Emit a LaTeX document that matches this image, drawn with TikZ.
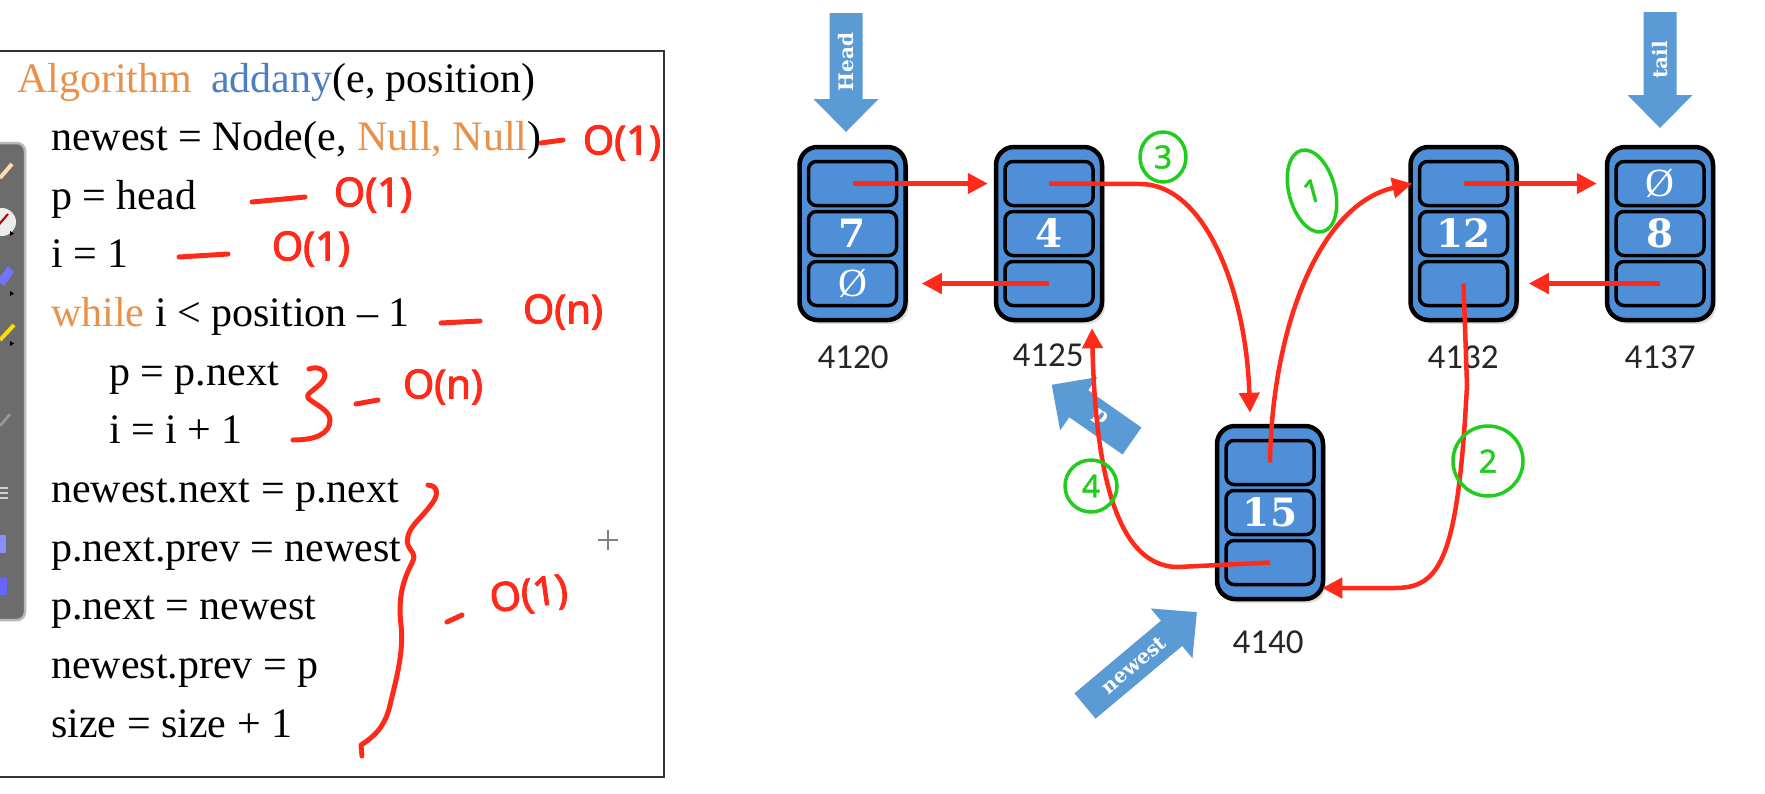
\documentclass[tikz,border=0pt]{standalone}
\usepackage{fontspec}
\setmainfont{Liberation Serif}
\newfontfamily\slabfont{DejaVu Serif}
\newfontfamily\addrfont{Carlito}
\newfontfamily\handfont[FakeBold=2.5]{Noto Sans}
\newfontfamily\greenfont[FakeBold=1.2]{Noto Sans}
\usetikzlibrary{arrows.meta,calc,shadows,shapes.geometric}
\definecolor{cellblue}{HTML}{4F8FD8}
\definecolor{arrblue}{HTML}{5B9BD5}
\definecolor{redpen}{HTML}{FF2A1A}
\definecolor{greenpen}{HTML}{22CC1E}
\definecolor{algorange}{HTML}{E8914A}
\definecolor{algblue}{HTML}{4A7FC4}
\definecolor{boxline}{HTML}{333333}
\definecolor{toolgray}{HTML}{6C6C6C}
\newcommand\nullmark{{\normalfont\mdseries\fontsize{40}{40}\selectfont Ø}}
\tikzset{
  codeline/.style={anchor=base west, inner sep=0pt, font=\fontsize{42}{42}\selectfont},
  outerbox/.style={draw=black, line width=4.5pt, fill=cellblue, rounded corners=18pt,
    minimum width=106pt, minimum height=173pt, inner sep=0pt,
    drop shadow={opacity=0.25, shadow xshift=3pt, shadow yshift=-4pt}},
  cellbox/.style={draw=black, line width=3.5pt, fill=cellblue, rounded corners=8pt,
    minimum width=88pt, minimum height=44pt, inner sep=0pt, text=white,
    font=\slabfont\bfseries\fontsize{39}{39}\selectfont},
  addr/.style={font=\addrfont\fontsize{35}{35}\selectfont, text=black!85, inner sep=0pt},
  ptr/.style={draw=redpen, line width=4.5pt, -{Triangle[length=20pt,width=20pt]}},
  pen/.style={draw=redpen, line width=5pt, line cap=round, line join=round},
  hand/.style={text=redpen, font=\handfont\fontsize{40}{40}\selectfont, inner sep=0pt},
  gring/.style={draw=greenpen, line width=3.5pt, ellipse, inner sep=0pt, text=greenpen,
    font=\greenfont\fontsize{32}{32}\selectfont},
  arrlabel/.style={text=white, font=\slabfont\bfseries\fontsize{20}{20}\selectfont, inner sep=0pt},
  tooltri/.style={fill=black},
}
\newcommand\blockarrow[3]{%
  \fill[arrblue, shift={#1}, rotate=#2] (0,-16.5) -- ({#3-33},-16.5) -- ({#3-33},-32.5)
    -- (#3,0) -- ({#3-33},32.5) -- ({#3-33},16.5) -- (0,16.5) -- cycle;}
\newcommand\dllnode[6]{%
  \node[outerbox] (#1) at (#2,#3) {};
  \node[cellbox] (#1t) at (#2,#3-50) {#4};
  \node[cellbox] (#1m) at (#2,#3) {#5};
  \node[cellbox] (#1b) at (#2,#3+50) {#6};}
\begin{document}
\begin{tikzpicture}[x=1pt,y=-1pt]
\useasboundingbox[fill=white] (0,0) rectangle (1765,793);

% ---------- left panel ----------
\draw[boxline, line width=2pt] (0,51) -- (664,51) -- (664,777) -- (0,777);
\filldraw[fill=toolgray, draw=gray!55, line width=2.5pt, rounded corners=8pt] (-12,143) rectangle (25,620);
% toolbar icons (simplified)
\draw[orange!30!white, line width=4pt] (0,178) -- (12,164);
\fill[white!85!gray] (2,222) circle (14pt);
\draw[red!70!black, line width=2pt] (-4,228) -- (8,214);
\fill[tooltri] (10,231) -- (14,233.5) -- (10,236) -- cycle;
\fill[blue!55!white] (-2,280) -- (8,266) -- (14,272) -- (4,286) -- cycle;
\fill[tooltri] (10,291) -- (14,293.5) -- (10,296) -- cycle;
\draw[yellow!80!orange, line width=4pt] (0,340) -- (14,325);
\fill[tooltri] (10,341) -- (14,343.5) -- (10,346) -- cycle;
\draw[gray!80!white, line width=2.5pt] (0,426) -- (10,414);
\draw[gray!35!white, line width=2pt] (0,488) -- (8,488) (0,493) -- (8,493) (0,498) -- (8,498);
\fill[blue!45!white] (-2,535) rectangle (6,553);
\fill[blue!60!white] (-2,578) rectangle (7,595);

\node[codeline] (l0) at (17,92) {\textcolor{algorange}{Algorithm}\hspace{0.45em}\textcolor{algblue}{addany}(e, position)};
\node[codeline] (l1) at (51,150) {newest = Node(e, \textcolor{algorange}{Null, Null})};
\node[codeline] (l2) at (51,209) {p = head};
\node[codeline] (l3) at (51,267) {i = 1};
\node[codeline] (l4) at (51,326) {\textcolor{algorange}{while} i < position – 1};
\node[codeline] (l5) at (109,385) {p = p.next};
\node[codeline] (l6) at (109,443) {i = i + 1};
\node[codeline] (l7) at (51,502) {newest.next = p.next};
\node[codeline] (l8) at (51,561) {p.next.prev = newest};
\node[codeline] (l9) at (51,619) {p.next = newest};
\node[codeline] (l10) at (51,678) {newest.prev = p};
\node[codeline] (l11) at (51,737) {size = size + 1};

% red handwriting
\draw[pen] (541,143) -- (563,140);
\node[hand] (c1) at (622,143) {O(1)};
\draw[pen] (252,202) -- (305,197);
\node[hand] (c2) at (373,195) {O(1)};
\draw[pen] (179,257) -- (228,254);
\node[hand] (c3) at (311,249) {O(1)};
\draw[pen] (441,323) -- (480,321);
\node[hand] (c4) at (563,312) {O(n)};
\draw[pen] (309,369) .. controls (320,365) and (330,372) .. (322,382)
  .. controls (315,390) and (305,394) .. (308,398) .. controls (314,404) and (330,410) .. (330,420)
  .. controls (330,434) and (315,440) .. (293,440);
\draw[pen] (356,404) -- (378,400);
\node[hand] (c5) at (443,387) {O(n)};
\draw[pen] (428,485) .. controls (440,486) and (438,497) .. (430,506)
  .. controls (420,520) and (404,530) .. (408,545) .. controls (411,553) and (417,553) .. (412,563)
  .. controls (402,582) and (398,600) .. (401,625) .. controls (404,652) and (396,680) .. (390,705)
  .. controls (385,728) and (372,738) .. (361,745) -- (362,756);
\draw[pen] (447,622) -- (462,615);
\node[hand, rotate=8] (c6) at (529,596) {O(1)};
\draw[gray, line width=2pt] (598,540) -- (618,540) (608,530) -- (608,550);

% ---------- right panel ----------
\blockarrow{(846,13)}{-90}{119}
\node[arrlabel, rotate=90] (headlbl) at (846,62) {Head};
\blockarrow{(1660,12)}{-90}{116}
\node[arrlabel, rotate=90] (taillbl) at (1660,60) {tail};
\blockarrow{(1132,441)}{145}{98}
\node[arrlabel, rotate=-35] (plbl) at (1100,418) {p};
\blockarrow{(1085,706)}{40}{146}
\node[arrlabel, rotate=40] (newlbl) at (1134,665) {newest};

\dllnode{n4120}{852.5}{233.5}{}{7}{\nullmark}
\dllnode{n4125}{1049}{233.5}{}{4}{}
\dllnode{n4132}{1463.5}{233.5}{}{12}{}
\dllnode{n4137}{1660}{233.5}{\nullmark}{8}{}
\dllnode{n4140}{1270}{512.5}{}{15}{}

\node[addr] (a4120) at (853,357) {4120};
\node[addr] (a4125) at (1048,355) {4125};
\node[addr] (a4132) at (1463,357) {4132};
\node[addr] (a4137) at (1660,357) {4137};
\node[addr] (a4140) at (1268,642) {4140};

% pointers
\draw[ptr] (n4120t.center) -- ($(n4125.west |- n4120t.center)+(-6,0)$);
\draw[ptr] (n4125b.center) -- ($(n4120.east |- n4125b.center)+(14,0)$);
\draw[ptr] (n4132t.center) -- ($(n4137.west |- n4132t.center)+(-8,0)$);
\draw[ptr] (n4137b.center) -- ($(n4132.east |- n4137b.center)+(10,0)$);
% step 3
\draw[ptr] (n4125t.center) -- (1140,184) .. controls (1205,184) and (1246,290) .. ($(n4140.north)+(-20,-11)$);
% step 1
\draw[ptr] (n4140t.center) .. controls (1272,330) and (1318,205) .. ($(n4132.west |- n4132t.center)+(4,0)$);
% step 2
\draw[ptr] (n4132b.center) -- (1467,385) .. controls (1458,560) and (1440,588) .. (1395,588) -- ($(n4140.east)+(-3,75.5)$);
% step 4
\draw[ptr] (n4140b.center) -- (1178,567) .. controls (1110,567) and (1095,450) .. ($(n4125.south)+(43,6)$);

% green step numbers
\node[gring, minimum width=46pt, minimum height=50pt] (g3) at (1163,157) {3};
\node[gring, minimum width=46pt, minimum height=84pt, rotate=15] (g1) at (1312,191) {1};
\node[gring, minimum width=70pt, minimum height=70pt] (g2) at (1488,461) {2};
\node[gring, minimum width=52pt, minimum height=52pt] (g4) at (1091,486) {4};
\end{tikzpicture}
\end{document}
